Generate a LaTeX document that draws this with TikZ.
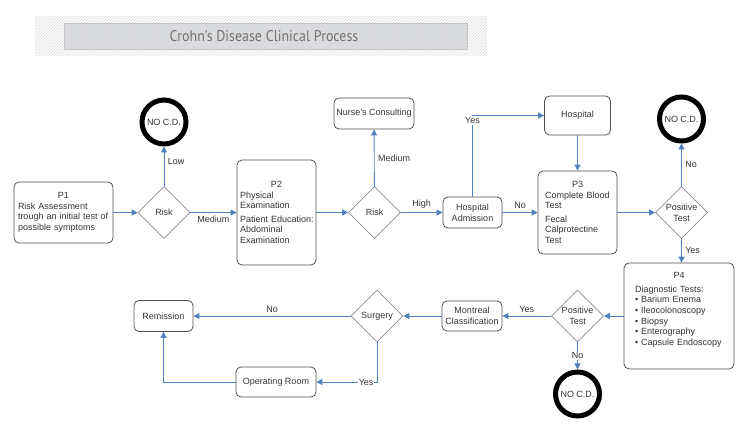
\documentclass[tikz,border=0pt]{standalone}
\usepackage{fontspec}
\setmainfont{Liberation Sans}
\newfontfamily\titlefont[FakeStretch=0.9]{PT Sans}
\usetikzlibrary{shapes.geometric,arrows.meta,patterns}
\definecolor{flowblue}{HTML}{4F81BD}
\definecolor{txtgray}{HTML}{333333}
\definecolor{boxgray}{HTML}{505050}
\definecolor{diagray}{HTML}{8C8C8C}
\definecolor{bandgray}{HTML}{D9DDE0}
\tikzset{
  every node/.style={font=\fontsize{9}{10.6}\selectfont, text=txtgray},
  proc/.style={draw=boxgray, rounded corners=5pt, line width=0.8pt, inner sep=2pt, align=center},
  textbox/.style={draw=boxgray, rounded corners=5pt, line width=0.8pt, inner ysep=3pt,
    execute at begin node={\setlength\parindent{0pt}\hyphenpenalty=10000\hbadness=10000}},
  decide/.style={diamond, draw=diagray, line width=0.7pt, minimum width=52pt, minimum height=52pt,
    inner sep=0pt, align=center},
  nocd/.style={circle, draw=black, line width=5pt, minimum size=44pt, inner sep=0pt},
  flow/.style={draw=flowblue, line width=0.9pt, -{Triangle[width=6pt,length=6pt]}},
  lbl/.style={fill=white, inner sep=1pt}
}
\begin{document}
\begin{tikzpicture}[x=1pt,y=-1pt]
\useasboundingbox (0,0) rectangle (750,443);
\fill[bandgray] (64,23) rectangle (467,49);
\fill[pattern=north east lines, pattern color=black!15] (35,17) rectangle (487,56);
\draw[black!22, line width=0.8pt] (64,23) rectangle (467,49);
\node[text=black!55] (title) at (264,36) {\titlefont\fontsize{15.5}{18}\selectfont Crohn’s Disease Clinical Process};

\path
(63.5,212.5) node[textbox, text width=91pt, inner xsep=4pt, minimum height=61pt] (p1)
  {{\centering P1\par}Risk Assessment\\trough an initial test of\\possible symptoms}
+(100.5,0)  node[decide] (risk1) {Risk}
+(100.5,-90.5) node[nocd] (nocd1) {NO C.D.}
(276.5,212.5) node[textbox, text width=73pt, inner xsep=3pt, minimum height=105pt] (p2)
  {{\centering P2\par}Physical\\Examination\par\vspace{3pt}\mbox{Patient Education:}\\Abdominal\\Examination}
+(98,0)     node[decide] (risk2) {Risk}
+(97.5,-99) node[proc, minimum width=80pt, minimum height=31pt] (nurse) {Nurse's Consulting}
(472.5,212.5) node[proc, minimum width=59pt, minimum height=31pt] (hadm) {Hospital\\Admission}
(577.5,212.5) node[textbox, text width=65pt, inner xsep=7pt, minimum height=83pt] (p3)
  {{\centering P3\par}Complete Blood\\Test\par\vspace{3pt}Fecal\\Calprotectine\\Test}
+(0,-97)    node[proc, minimum width=66pt, minimum height=39pt] (hosp) {Hospital}
(681.5,212.5) node[decide] (pos1) {Positive\\Test}
+(0,-93.5)  node[nocd] (nocd2) {NO C.D.}
(679,316)   node[textbox, text width=88pt, inner xsep=11pt, minimum height=106pt] (p4)
  {{\centering P4\par}\vspace{3pt}Diagnostic Tests:\\\textbullet\ Barium Enema\\\textbullet\ Ileocolonoscopy\\
   \textbullet\ Biopsy\\\textbullet\ Enterography\\\textbullet\ Capsule Endoscopy\rule[-14pt]{0pt}{14pt}}
(577.5,316) node[decide] (pos2) {Positive\\Test}
+(0,78)     node[nocd] (nocd3) {NO C.D.}
(472,316)   node[proc, minimum width=60pt, minimum height=30pt] (montreal) {Montreal\\Classification}
(377,316)   node[decide] (surgery) {Surgery}
(163.5,316) node[proc, minimum width=59pt, minimum height=31pt] (remission) {Remission}
(276,382)   node[proc, minimum width=80pt, minimum height=30pt] (oproom) {Operating Room}
;

\draw[flow] (p1) -- (risk1);
\draw[flow] (risk1) -- node[right, pos=0.62] {Low} (nocd1);
\draw[flow] (risk1) -- node[below] {Medium} (p2);
\draw[flow] (p2) -- (risk2);
\draw[flow] (risk2) -- node[right] {Medium} (nurse);
\draw[flow] (risk2) -- node[above] {High} (hadm);
\draw[flow] (hadm) -- node[above] {No} (p3);
\draw[flow] (hadm) |- node[lbl, pos=0.5, yshift=-5pt] {Yes} (hosp);
\draw[flow] (hosp) -- (p3);
\draw[flow] (p3) -- (pos1);
\draw[flow] (pos1) -- node[right] {No} (nocd2);
\draw[flow] (pos1.south) -- node[right] {Yes} (pos1.south |- p4.north);
\draw[flow] (p4) -- (pos2);
\draw[flow] (pos2) -- node[above] {Yes} (montreal);
\draw[flow] (pos2) -- node[lbl] {No} (nocd3);
\draw[flow] (montreal) -- (surgery);
\draw[flow] (surgery) -- node[above] {No} (remission);
\draw[flow] (surgery) |- node[lbl, pos=0.59] {Yes} (oproom);
\draw[flow] (oproom) -| (remission);
\end{tikzpicture}
\end{document}
